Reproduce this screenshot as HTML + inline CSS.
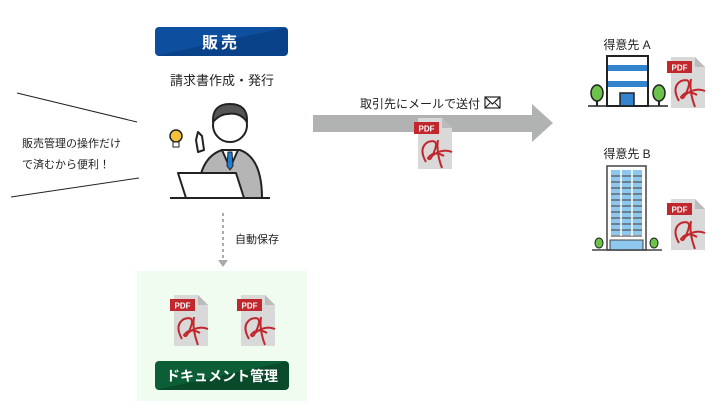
<!DOCTYPE html>
<html><head><meta charset="utf-8"><style>
html,body{margin:0;padding:0;background:#fff;}
svg{display:block;font-family:"Liberation Sans","Noto Sans CJK JP",sans-serif;}
</style></head><body>
<svg width="724" height="411" viewBox="0 0 724 411" xmlns="http://www.w3.org/2000/svg">
<defs>
<linearGradient id="bl" x1="0" y1="0" x2="1" y2="1"><stop offset="0.5" stop-color="#0d4f9e"/><stop offset="0.5" stop-color="#0a4289"/></linearGradient>
<linearGradient id="gr" x1="0" y1="0" x2="1" y2="1"><stop offset="0.5" stop-color="#0b5e35"/><stop offset="0.5" stop-color="#084a2a"/></linearGradient>
</defs>
<rect x="155" y="27" width="133" height="29" rx="4" fill="url(#bl)"/>
<text x="221" y="48" font-size="16" font-weight="bold" fill="#fff" text-anchor="middle" letter-spacing="3">販売</text>
<text x="222" y="85" font-size="13" fill="#222" text-anchor="middle">請求書作成・発行</text>
<line x1="17" y1="93" x2="137" y2="122" stroke="#222" stroke-width="1"/>
<line x1="11" y1="197" x2="139" y2="178" stroke="#222" stroke-width="1"/>
<text x="22" y="147" font-size="11" fill="#222">販売管理の操作だけ</text>
<text x="22" y="168" font-size="11" fill="#222">で済むから便利！</text>
<g stroke="#222" stroke-width="2" stroke-linejoin="round">
<path d="M198 198 Q198 158 222 150 L240 150 Q262 158 262 198 Z" fill="#b5b5b5"/>
<path d="M222 150 L230 168 L238 150 Z" fill="#fff"/>
<path d="M228 152 L232 152 L233 166 L230 170 L227 166 Z" fill="#1f7ed1" stroke-width="1"/>
<circle cx="230" cy="125" r="17" fill="#fff"/>
<path d="M213 122 Q212 104 230 104 Q248 104 247 122 Q240 112 228 114 Q220 114 213 122 Z" fill="#555"/>
<path d="M196 140 L198 132 L202 136 L204 150 L198 152 Z" fill="#fff"/>
<path d="M178 173 L236 173 L244 198 L186 198 Z" fill="#fff"/>
</g>
<line x1="170" y1="198" x2="270" y2="198" stroke="#222" stroke-width="2"/>
<circle cx="176" cy="136" r="6" fill="#f4c23a" stroke="#222" stroke-width="1.5"/>
<rect x="173" y="142" width="6" height="5" fill="#fff" stroke="#222" stroke-width="1"/>
<line x1="223" y1="213" x2="223" y2="259" stroke="#aaa" stroke-width="2" stroke-dasharray="3,3"/>
<polygon points="218,260 228,260 223,267" fill="#aaa"/>
<text x="235" y="243" font-size="11" fill="#222">自動保存</text>
<rect x="137" y="271" width="170" height="130" fill="#effcef"/>
<rect x="155" y="361" width="134" height="29" rx="4" fill="url(#gr)"/>
<text x="222" y="381" font-size="14" font-weight="bold" fill="#fff" text-anchor="middle">ドキュメント管理</text>
<polygon points="313,115 532,115 532,104 553,123 532,142 532,132 313,132" fill="#b1b3b3"/>
<text x="360" y="108" font-size="12" fill="#222">取引先にメールで送付</text>
<rect x="485" y="97" width="15" height="11" fill="#fff" stroke="#222" stroke-width="1.2"/>
<polyline points="485,97 492.5,104 500,97" fill="none" stroke="#222" stroke-width="1.2"/>
<line x1="485" y1="108" x2="490" y2="103" stroke="#222" stroke-width="1"/>
<line x1="500" y1="108" x2="495" y2="103" stroke="#222" stroke-width="1"/>

<g transform="translate(414,118)">
<polygon points="4,0 28,0 38,10 38,51 4,51" fill="#d9d9d9"/><polygon points="28,0 28,10 38,10" fill="#bbb"/>
<rect x="0" y="4" width="25" height="12" fill="#c0282d"/><text x="12.5" y="13.5" font-size="8" font-weight="bold" fill="#fff" text-anchor="middle">PDF</text>
<path d="M12 44 Q4 30 14 24 Q26 20 20 34 Q16 44 14 40 Q20 32 30 38 M24 22 Q22 34 28 50 M18 38 Q28 30 38 34" fill="none" stroke="#c0282d" stroke-width="2"/>
</g>
<g transform="translate(170,295)">
<polygon points="4,0 28,0 38,10 38,51 4,51" fill="#d9d9d9"/><polygon points="28,0 28,10 38,10" fill="#bbb"/>
<rect x="0" y="4" width="25" height="12" fill="#c0282d"/><text x="12.5" y="13.5" font-size="8" font-weight="bold" fill="#fff" text-anchor="middle">PDF</text>
<path d="M12 44 Q4 30 14 24 Q26 20 20 34 Q16 44 14 40 Q20 32 30 38 M24 22 Q22 34 28 50 M18 38 Q28 30 38 34" fill="none" stroke="#c0282d" stroke-width="2"/>
</g>
<g transform="translate(237,295)">
<polygon points="4,0 28,0 38,10 38,51 4,51" fill="#d9d9d9"/><polygon points="28,0 28,10 38,10" fill="#bbb"/>
<rect x="0" y="4" width="25" height="12" fill="#c0282d"/><text x="12.5" y="13.5" font-size="8" font-weight="bold" fill="#fff" text-anchor="middle">PDF</text>
<path d="M12 44 Q4 30 14 24 Q26 20 20 34 Q16 44 14 40 Q20 32 30 38 M24 22 Q22 34 28 50 M18 38 Q28 30 38 34" fill="none" stroke="#c0282d" stroke-width="2"/>
</g>
<g transform="translate(667,57)">
<polygon points="4,0 28,0 38,10 38,51 4,51" fill="#d9d9d9"/><polygon points="28,0 28,10 38,10" fill="#bbb"/>
<rect x="0" y="4" width="25" height="12" fill="#c0282d"/><text x="12.5" y="13.5" font-size="8" font-weight="bold" fill="#fff" text-anchor="middle">PDF</text>
<path d="M12 44 Q4 30 14 24 Q26 20 20 34 Q16 44 14 40 Q20 32 30 38 M24 22 Q22 34 28 50 M18 38 Q28 30 38 34" fill="none" stroke="#c0282d" stroke-width="2"/>
</g>
<g transform="translate(667,199)">
<polygon points="4,0 28,0 38,10 38,51 4,51" fill="#d9d9d9"/><polygon points="28,0 28,10 38,10" fill="#bbb"/>
<rect x="0" y="4" width="25" height="12" fill="#c0282d"/><text x="12.5" y="13.5" font-size="8" font-weight="bold" fill="#fff" text-anchor="middle">PDF</text>
<path d="M12 44 Q4 30 14 24 Q26 20 20 34 Q16 44 14 40 Q20 32 30 38 M24 22 Q22 34 28 50 M18 38 Q28 30 38 34" fill="none" stroke="#c0282d" stroke-width="2"/>
</g>

<text x="627" y="49" font-size="12" fill="#222" text-anchor="middle">得意先 A</text>
<rect x="607" y="56" width="41" height="50" fill="#fff" stroke="#222" stroke-width="2"/>
<rect x="608" y="65" width="39" height="6" fill="#3384cc"/>
<rect x="608" y="81" width="39" height="6" fill="#3384cc"/>
<rect x="620" y="93" width="14" height="13" fill="#3384cc" stroke="#222" stroke-width="1.5"/>
<ellipse cx="597" cy="93" rx="6" ry="8" fill="#6cc24a" stroke="#222" stroke-width="1.5"/><line x1="597" y1="101" x2="597" y2="106" stroke="#222" stroke-width="2"/>
<ellipse cx="659" cy="93" rx="6" ry="8" fill="#6cc24a" stroke="#222" stroke-width="1.5"/><line x1="659" y1="101" x2="659" y2="106" stroke="#222" stroke-width="2"/>
<line x1="588" y1="106" x2="668" y2="106" stroke="#222" stroke-width="1.5"/>
<text x="627" y="158" font-size="12" fill="#222" text-anchor="middle">得意先 B</text>
<rect x="607" y="166" width="39" height="84" fill="#fff" stroke="#444" stroke-width="1.5"/>
<rect x="611" y="170" width="31" height="65" fill="#8ec8ee"/>
<g stroke="#555" stroke-width="1.3">
<line x1="611" y1="176" x2="642" y2="176"/><line x1="611" y1="182" x2="642" y2="182"/><line x1="611" y1="188" x2="642" y2="188"/><line x1="611" y1="194" x2="642" y2="194"/><line x1="611" y1="200" x2="642" y2="200"/><line x1="611" y1="206" x2="642" y2="206"/><line x1="611" y1="212" x2="642" y2="212"/><line x1="611" y1="218" x2="642" y2="218"/><line x1="611" y1="224" x2="642" y2="224"/><line x1="611" y1="230" x2="642" y2="230"/><line x1="611" y1="236" x2="642" y2="236"/>
</g>
<g stroke="#fff" stroke-width="1.5"><line x1="621" y1="170" x2="621" y2="236"/><line x1="632" y1="170" x2="632" y2="236"/></g>
<rect x="610" y="240" width="33" height="10" fill="#8ec8ee" stroke="#444" stroke-width="1"/>
<ellipse cx="599" cy="243" rx="4" ry="5" fill="#6cc24a" stroke="#222" stroke-width="1"/>
<ellipse cx="654" cy="243" rx="4" ry="5" fill="#6cc24a" stroke="#222" stroke-width="1"/>
<line x1="592" y1="250" x2="662" y2="250" stroke="#444" stroke-width="1.5"/>
</svg>
</body></html>
